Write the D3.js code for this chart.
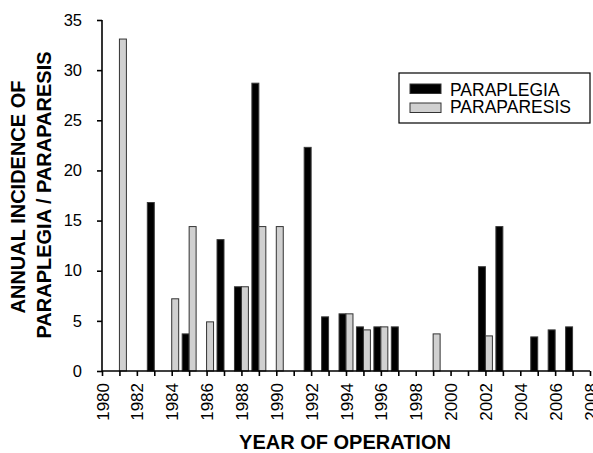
<!DOCTYPE html>
<html>
<head>
<meta charset="utf-8">
<script src="https://cdn.jsdelivr.net/npm/d3@7"></script>
<style>
  body { margin: 0; background: #fff; }
  text { font-family: "Liberation Sans", Arial, sans-serif; }
</style>
</head>
<body>
<script>
// data
var years       = [1981, 1982, 1983, 1984, 1985, 1986, 1987, 1988, 1989, 1990, 1991, 1992, 1993, 1994,
                   1995, 1996, 1997, 1998, 1999, 2000, 2001, 2002, 2003, 2004, 2005, 2006, 2007];
var paraplegia  = [null, null, 16.8, null, 3.7, null, 13.1, 8.4, 28.7, null, null, 22.3, 5.4, 5.7,
                   4.4, 4.4, 4.4, null, null, null, null, 10.4, 14.4, null, 3.4, 4.1, 4.4];
var paraparesis = [33.1, null, null, 7.2, 14.4, 4.9, null, 8.4, 14.4, 14.4, null, null, null, 5.7,
                   4.1, 4.4, null, null, 3.7, null, null, 3.5, null, null, null, null, null];
var yTicks = [0, 5, 10, 15, 20, 25, 30, 35];
var seriesNames = ["PARAPLEGIA", "PARAPARESIS"];

var svgWidth = 593, svgHeight = 453;
var margin = { top: 20, right: 3, bottom: 82, left: 102 };
var width = svgWidth - margin.left - margin.right;
var height = svgHeight - margin.top - margin.bottom;

var svg = d3.select("body").append("svg")
  .attr("width", svgWidth)
  .attr("height", svgHeight);

var chart = svg.append("g")
  .attr("transform", `translate(${margin.left}, ${margin.top})`);

var x = d3.scaleLinear().domain([1980, 2008]).range([0, width]);
var y = d3.scaleLinear().domain([0, 35]).range([height, 0]);
var barW = (x(1981) - x(1980)) * 0.4;

// bars
var rows = years.map(function(yr, i) {
  return { year: yr, a: paraplegia[i], b: paraparesis[i] };
});

chart.selectAll(".bar-a")
  .data(rows.filter(d => d.a != null))
  .enter().append("rect")
  .attr("class", "bar-a")
  .attr("x", d => x(d.year) - barW)
  .attr("y", d => y(d.a))
  .attr("width", barW)
  .attr("height", d => y(0) - y(d.a))
  .attr("fill", "#000")
  .attr("stroke", "#3a3a3a")
  .attr("stroke-width", 1);

chart.selectAll(".bar-b")
  .data(rows.filter(d => d.b != null))
  .enter().append("rect")
  .attr("class", "bar-b")
  .attr("x", d => x(d.year))
  .attr("y", d => y(d.b))
  .attr("width", barW)
  .attr("height", d => y(0) - y(d.b))
  .attr("fill", "#d0d0d0")
  .attr("stroke", "#333")
  .attr("stroke-width", 1);

// axes
var yAxis = d3.axisLeft(y).tickValues(yTicks).tickSize(5).tickPadding(15);
var gy = chart.append("g").call(yAxis);
gy.select(".domain").attr("d", `M0,0V${height}`);

var xAxis = d3.axisBottom(x)
  .tickValues(d3.range(1980, 2009))
  .tickFormat(d => d % 2 === 0 ? d : "")
  .tickSize(5).tickPadding(8);
var gx = chart.append("g")
  .attr("transform", `translate(0,${height})`)
  .call(xAxis);
gx.select(".domain").attr("d", `M0,0H${width}`);

svg.selectAll(".domain, .tick line")
  .attr("stroke", "#000")
  .attr("stroke-width", 1.6);
svg.selectAll(".tick text")
  .attr("fill", "#000")
  .style("font-size", "16.5px")
  .style("font-family", "'Liberation Sans', Arial, sans-serif");

gx.selectAll("text")
  .attr("transform", "rotate(-90)")
  .attr("x", -12)
  .attr("y", 0)
  .attr("dy", "0.36em")
  .style("text-anchor", "end")
  .style("font-size", "17px");

// axis titles
svg.append("text")
  .attr("x", 345)
  .attr("y", 449)
  .style("text-anchor", "middle")
  .style("font-size", "20px")
  .style("font-weight", "bold")
  .text("YEAR OF OPERATION");

svg.append("text")
  .attr("transform", "translate(25,197) rotate(-90)")
  .style("text-anchor", "middle")
  .style("font-size", "20px")
  .style("font-weight", "bold")
  .text("ANNUAL INCIDENCE OF");

svg.append("text")
  .attr("transform", "translate(50.5,195) rotate(-90)")
  .style("text-anchor", "middle")
  .style("font-size", "20px")
  .style("font-weight", "bold")
  .text("PARAPLEGIA / PARAPARESIS");

// legend
var legend = svg.append("g").attr("transform", "translate(399,73)");
legend.append("rect")
  .attr("width", 191).attr("height", 50)
  .attr("fill", "#fff").attr("stroke", "#000").attr("stroke-width", 1.2);

var fills = ["#000", "#d0d0d0"];
seriesNames.forEach(function(name, i) {
  legend.append("rect")
    .attr("x", 11).attr("y", 11 + i * 19)
    .attr("width", 31).attr("height", 9.5)
    .attr("fill", fills[i]).attr("stroke", "#333").attr("stroke-width", 1);
  legend.append("text")
    .attr("x", 51).attr("y", 22.5 + i * 17.7)
    .style("font-size", "17.5px")
    .text(name);
});
</script>
</body>
</html>
